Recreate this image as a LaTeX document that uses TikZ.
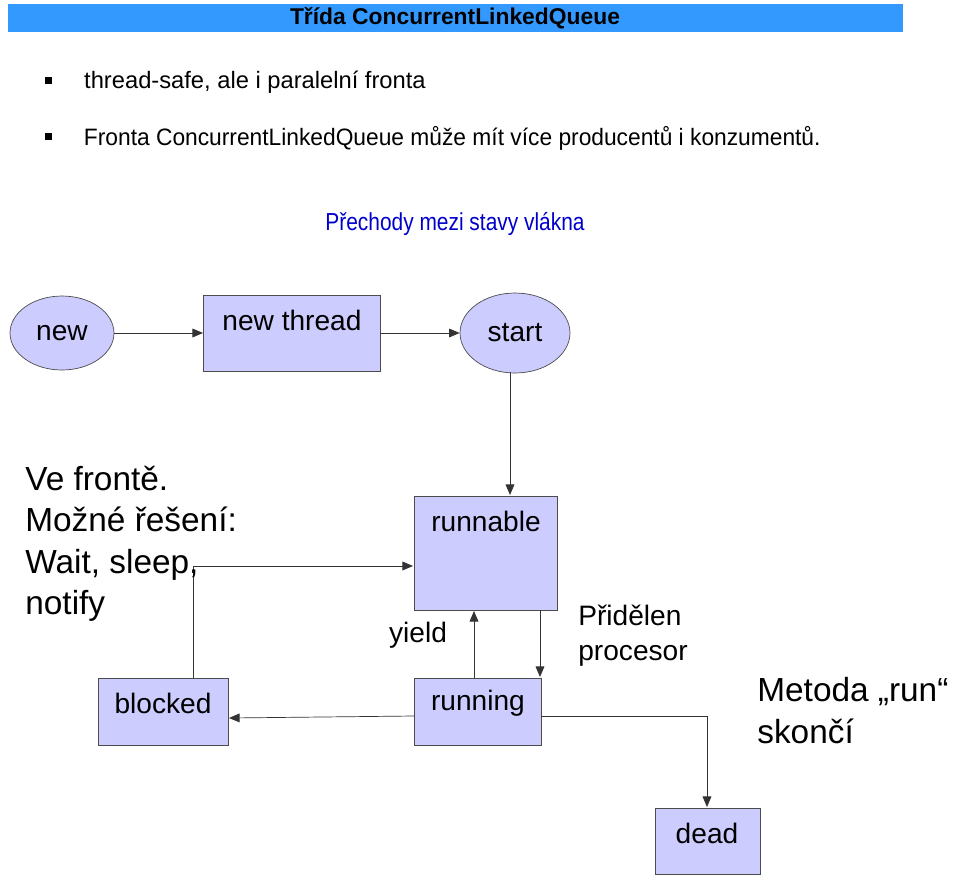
\documentclass[tikz,border=0pt]{standalone}
\usepackage{fontspec}
\setmainfont{Liberation Sans}
\usetikzlibrary{shapes.geometric,arrows.meta}
\definecolor{lav}{RGB}{204,204,255}
\definecolor{titlebar}{RGB}{51,153,255}
\tikzset{
	st/.style={ellipse,draw=black!70,fill=lav,inner sep=0pt,font=\fontsize{16}{18}\selectfont},
	box/.style={rectangle,draw=black!70,fill=lav,inner sep=0pt},
	lbl/.style={font=\fontsize{16}{18}\selectfont,inner sep=0pt},
	big/.style={font=\fontsize{19}{23}\selectfont,inner sep=0pt,align=left},
	arr/.style={-{Triangle[length=6pt,width=5pt]},black!80}
}
\begin{document}
\begin{tikzpicture}[x=0.02cm,y=-0.02cm]
	\useasboundingbox (0,0) rectangle (960,876);
	% title and bullets
	\fill[titlebar] (8,4) rectangle (903,32);
	\node[font=\bfseries\fontsize{13}{15}\selectfont] (title) at (455,18) {Třída ConcurrentLinkedQueue};
	\fill (45,77) rectangle (52,84);
	\fill (45,133) rectangle (52,140);
	\node[anchor=west,font=\fontsize{13.5}{15}\selectfont] (b1) at (78,82) {thread-safe, ale i paralelní fronta};
	\node[anchor=west,font=\fontsize{13.5}{15}\selectfont,xscale=0.96] (b2) at (78,138) {Fronta ConcurrentLinkedQueue může mít více producentů i konzumentů.};
	\node[text=blue!80!black,font=\fontsize{14}{16}\selectfont,xscale=0.85] (head) at (455,224) {Přechody mezi stavy vlákna};
	% states
	\node[st,minimum width=2.08cm,minimum height=1.48cm] (new) at (62,333) {new};
	\node[st,minimum width=2.2cm,minimum height=1.6cm] (start) at (515,333) {start};
	\draw[box] (203,295) rectangle (380,371);
	\node[lbl] (nt) at (292,320) {new thread};
	\draw[box] (414,496) rectangle (557,610);
	\node[lbl] (runnable) at (486,521) {runnable};
	\draw[box] (414,678) rectangle (541,745);
	\node[lbl] (running) at (478,703) {running};
	\draw[box] (98,678) rectangle (228,745);
	\node[lbl] (blocked) at (163,703) {blocked};
	\draw[box] (655,808) rectangle (760,874);
	\node[lbl] (dead) at (707,833) {dead};
	% transitions
	\coordinate (ntL) at (203,333);
	\coordinate (ntR) at (380,333);
	\draw[arr] (new.east) -- (ntL);
	\draw[arr] (ntR) -- (start.west);
	\draw[arr] (510,372) -- (510,495);
	\draw[arr] (540,610) -- (540,677);
	\draw[arr] (474,678) -- (474,611);
	\draw[arr] (414,716) -- (229,718);
	\draw[arr] (541,716) -- (707,716) -- (707,807);
	\draw[arr] (193,678) -- (193,566) -- (413,566);
	% labels
	\node[big,anchor=north west,font=\fontsize{19}{23.5}\selectfont] (queue) at (25,466) {Ve frontě.\\Možné řešení:\\Wait, sleep,\\notify};
	\node[lbl] (yield) at (418,635) {yield};
	\node[lbl,align=left,anchor=north west,font=\fontsize{16}{20}\selectfont] (cpu) at (578,605) {Přidělen\\procesor};
	\node[big,anchor=north west,font=\fontsize{19}{24}\selectfont] (end) at (757,677) {Metoda „run“\\skončí};
\end{tikzpicture}
\end{document}
